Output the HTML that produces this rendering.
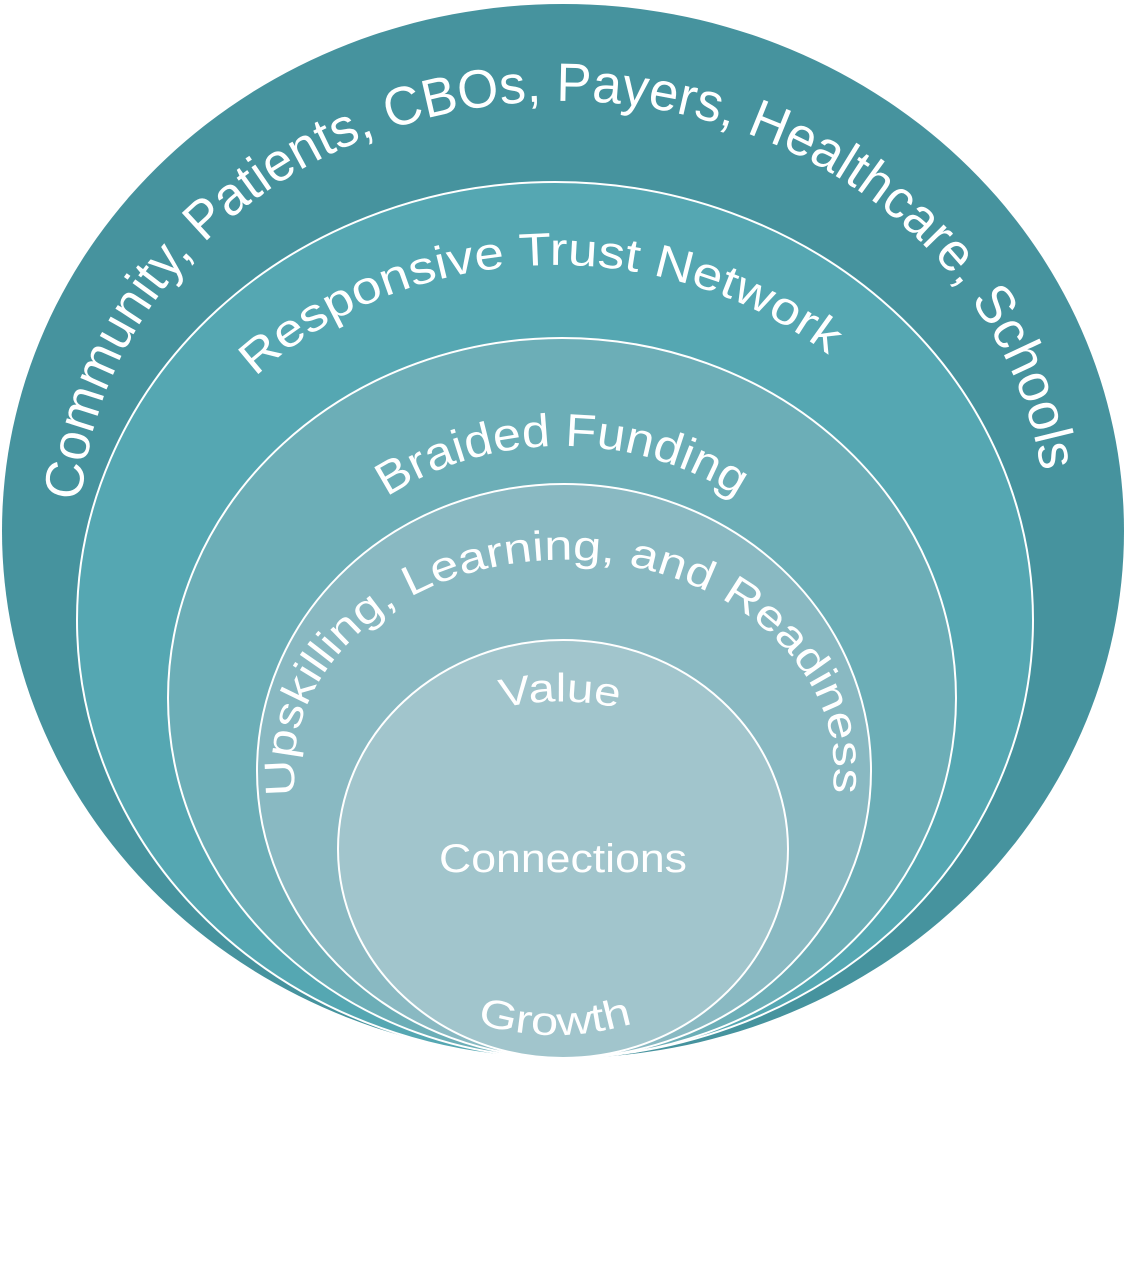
<!DOCTYPE html>
<html><head><meta charset="utf-8"><style>
html,body{margin:0;padding:0;background:#fff;}
svg{display:block;}
text{font-family:"Liberation Sans","DejaVu Sans",sans-serif;fill:#fff;}
</style></head><body>
<svg width="1127" height="1276" viewBox="0 0 1127 1276" xmlns="http://www.w3.org/2000/svg">
<defs>
<path id="p1" d="M 80 531 A 483 430 0 0 1 1046 531"/>
<path id="p2" d="M 144 620 A 411 355 0 0 1 966 620"/>
<path id="p3" d="M 272 698 A 290 252 0 0 1 852 698"/>
<path id="p4" d="M 299 810 A 270 210 0 1 1 829 810"/>
<path id="p5" d="M 440 728 Q 560 675 680 728"/>
<path id="p6" d="M 430 1005 Q 555 1065 680 1005"/>
</defs>
<ellipse cx="563" cy="531" rx="561" ry="527" fill="#46939e"/>
<ellipse cx="555" cy="620" rx="478" ry="438" fill="#55a7b2" stroke="#fff" stroke-width="2"/>
<ellipse cx="562" cy="698" rx="394" ry="360" fill="#6caeb7" stroke="#fff" stroke-width="2"/>
<ellipse cx="564" cy="771" rx="307" ry="287" fill="#89b9c2" stroke="#fff" stroke-width="2"/>
<ellipse cx="563" cy="849" rx="225" ry="209" fill="#a1c5cc" stroke="#fff" stroke-width="2"/>
<text font-size="54"><textPath href="#p1" startOffset="30" textLength="1345" lengthAdjust="spacingAndGlyphs">Community, Patients, CBOs, Payers, Healthcare, Schools</textPath></text>
<text font-size="46"><textPath href="#p2" startOffset="275" textLength="620" lengthAdjust="spacingAndGlyphs">Responsive Trust Network</textPath></text>
<text font-size="46" text-anchor="middle"><textPath href="#p3" startOffset="50%" textLength="370" lengthAdjust="spacingAndGlyphs">Braided Funding</textPath></text>
<text font-size="42"><textPath href="#p4" startOffset="15" textLength="805" lengthAdjust="spacingAndGlyphs">Upskilling, Learning, and Readiness</textPath></text>
<text font-size="40" text-anchor="middle"><textPath href="#p5" startOffset="50%" textLength="118" lengthAdjust="spacingAndGlyphs">Value</textPath></text>
<text x="563" y="872" font-size="40" text-anchor="middle" textLength="248" lengthAdjust="spacingAndGlyphs">Connections</text>
<text font-size="40" text-anchor="middle"><textPath href="#p6" startOffset="50%" textLength="158" lengthAdjust="spacingAndGlyphs">Growth</textPath></text>
</svg>
</body></html>
